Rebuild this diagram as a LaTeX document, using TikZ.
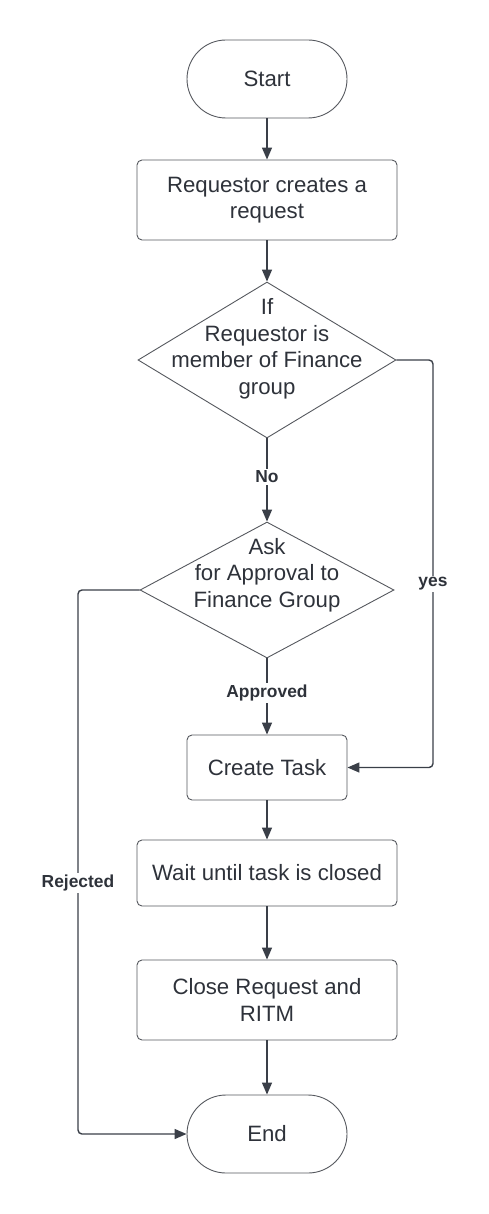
\documentclass[tikz,border=0pt]{standalone}
\usepackage{fontspec}
\setmainfont{Liberation Sans}
\usetikzlibrary{shapes.geometric,arrows.meta}
\definecolor{txtc}{RGB}{46,50,58}
\definecolor{linec}{RGB}{58,63,72}
\definecolor{borderc}{RGB}{85,88,94}
\begin{document}
\begin{tikzpicture}[x=1pt,y=-1pt,
  every node/.style={text=txtc},
  boxtxt/.style={font=\fontsize{22.2}{26.5}\selectfont, align=center},
  procbox/.style={boxtxt, draw=borderc, line width=0.9pt, rounded corners=5pt, inner sep=0pt},
  term/.style={boxtxt, draw=borderc, line width=0.9pt, rounded corners=39pt, minimum width=160pt, minimum height=78pt, inner sep=0pt},
  dia/.style={diamond, draw=borderc, line width=0.9pt, inner sep=0pt},
  lbl/.style={font=\fontsize{17.4}{20}\bfseries\selectfont, fill=white, inner sep=2pt},
  conn/.style={draw=linec, line width=1.4pt, rounded corners=4pt, -{Triangle[length=12pt,width=10pt]}}
]
\useasboundingbox (0,0) rectangle (489,1214);
\node[term] (start) at (267,79) {Start};
\node[procbox, minimum width=260pt, minimum height=80pt] (req) at (267,200) {Requestor creates a\\request};
\node[dia, minimum width=258pt, minimum height=156pt] (d1) at (267,360) {};
\node[boxtxt] (d1t) at (267,349) {If\\Requestor is\\member of Finance\\group};
\node[dia, minimum width=254pt, minimum height=136pt] (d2) at (267,590) {};
\node[boxtxt] (d2t) at (267,575) {Ask\\for Approval to\\Finance Group};
\node[procbox, minimum width=160pt, minimum height=65pt] (task) at (267,767.5) {Create Task};
\node[procbox, minimum width=260pt, minimum height=66pt] (wait) at (267,873) {Wait until task is closed};
\node[procbox, minimum width=260pt, minimum height=80pt] (close) at (267,1000) {Close Request and\\RITM};
\node[term] (end) at (267,1134) {End};
\coordinate (yc1) at (433,360);
\coordinate (yc2) at (433,767.5);
\coordinate (rc1) at (78,590);
\coordinate (rc2) at (78,1134);
\draw[conn] (start.south) -- (req.north);
\draw[conn] (req.south) -- (d1.north);
\draw[conn] (d1.south) -- (d2.north);
\draw[conn] (d2.south) -- (task.north);
\draw[conn] (task.south) -- (wait.north);
\draw[conn] (wait.south) -- (close.north);
\draw[conn] (close.south) -- (end.north);
\draw[conn] (d1.east) -- (yc1) -- (yc2) -- (task.east);
\draw[conn] (d2.west) -- (rc1) -- (rc2) -- (end.west);
\node[lbl] (no) at (267,477) {No};
\node[lbl] (appr) at (267,693) {Approved};
\node[lbl] (yes) at (433,584) {yes};
\node[lbl] (rej) at (78,883) {Rejected};
\end{tikzpicture}
\end{document}
